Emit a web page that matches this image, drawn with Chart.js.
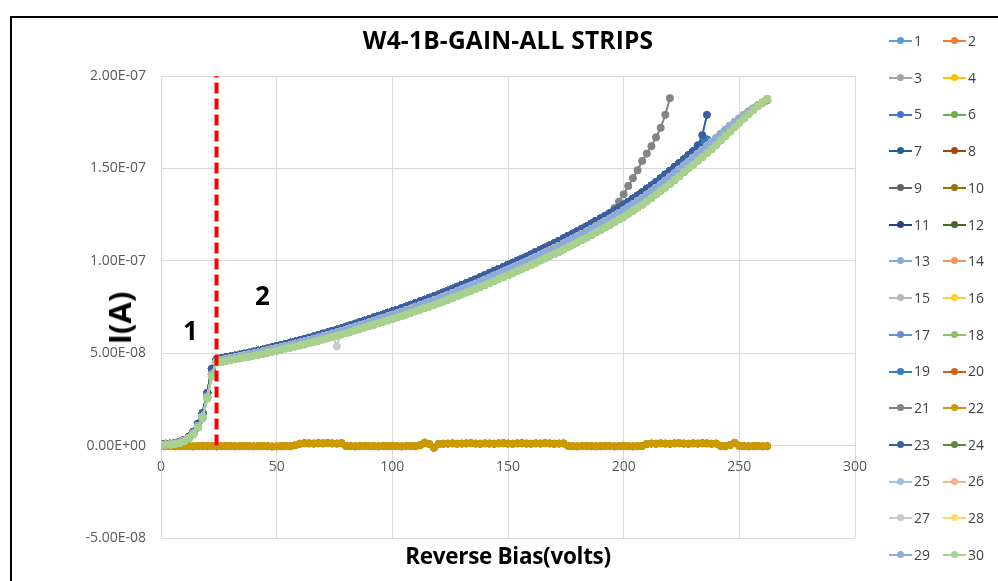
<!DOCTYPE html>
<html lang="en">

<head>
    <meta charset="UTF-8" />
    <title>W4-1B-GAIN-ALL STRIPS</title>
    <script src="https://cdn.jsdelivr.net/npm/chart.js"></script>
    <style>
        body {
            margin: 0;
            background: #fff;
            font-family: "Open Sans", sans-serif;
        }

        .janela {
            position: relative;
            width: 998px;
            height: 581px;
            overflow: hidden;
        }

        .moldura {
            position: absolute;
            left: 10px;
            top: 16px;
            width: 1000px;
            height: 600px;
            border-left: 2px solid #000;
            border-top: 2px solid #000;
        }

        canvas {
            position: absolute;
            left: 0;
            top: 0;
        }

        .titulo {
            position: absolute;
            left: 161px;
            width: 694px;
            top: 23px;
            line-height: 34px;
            text-align: center;
            font-weight: bold;
            font-size: 24.5px;
            letter-spacing: 0.2px;
            color: #000;
        }

        .eixo-x {
            position: absolute;
            left: 161px;
            width: 694px;
            top: 540px;
            line-height: 32px;
            text-align: center;
            font-weight: bold;
            font-size: 22.5px;
            letter-spacing: -0.3px;
            color: #000;
        }

        .eixo-y {
            position: absolute;
            left: 119px;
            top: 318px;
            transform: translate(-50%, -50%) rotate(-90deg);
            font-weight: bold;
            font-size: 31px;
            white-space: nowrap;
            color: #000;
        }

        .item {
            position: absolute;
            height: 20px;
            line-height: 20px;
            font-size: 14px;
            color: #404040;
            white-space: nowrap;
        }

        .amostra {
            position: relative;
            display: inline-block;
            width: 23px;
            height: 2px;
            vertical-align: middle;
            margin-right: 2px;
            margin-top: -2px;
        }

        .amostra i {
            position: absolute;
            left: 8px;
            top: -3px;
            width: 7px;
            height: 7px;
            border-radius: 50%;
        }
    </style>
</head>

<body>
    <div class="janela">
        <div class="moldura"></div>
        <canvas id="grafico" width="998" height="581"></canvas>
        <div class="titulo">W4-1B-GAIN-ALL STRIPS</div>
        <div class="eixo-y">I(A)</div>
        <div class="eixo-x">Reverse Bias(volts)</div>
        <div id="legenda"></div>
    </div>
</body>

</html>
<script>
    // bias points (V)
    var bias = [0, 2, 4, 6, 8, 10, 12, 14, 16, 18, 20, 22, 24, 26, 28, 30, 32, 34, 36, 38,
        40, 42, 44, 46, 48, 50, 52, 54, 56, 58, 60, 62, 64, 66, 68, 70, 72, 74, 76, 78,
        80, 82, 84, 86, 88, 90, 92, 94, 96, 98, 100, 102, 104, 106, 108, 110, 112, 114, 116, 118,
        120, 122, 124, 126, 128, 130, 132, 134, 136, 138, 140, 142, 144, 146, 148, 150, 152, 154, 156, 158,
        160, 162, 164, 166, 168, 170, 172, 174, 176, 178, 180, 182, 184, 186, 188, 190, 192, 194, 196, 198,
        200, 202, 204, 206, 208, 210, 212, 214, 216, 218, 220, 222, 224, 226, 228, 230, 232, 234, 236, 238,
        240, 242, 244, 246, 248, 250, 252, 254, 256, 258, 260, 262];

    // currents in nA
    var curvaMedia = [0.5, 0.6, 0.7, 1.0, 1.6, 2.6, 4.2, 6.6, 10.6, 15.8,
        26.5, 38.5, 45.5, 46.3, 46.8, 47.3, 47.8, 48.3, 48.8, 49.3,
        49.8, 50.3, 50.9, 51.5, 52.1, 52.7, 53.3, 53.9, 54.5, 55.1,
        55.7, 56.3, 57.0, 57.7, 58.4, 59.1, 59.8, 60.5, 61.2, 61.9,
        62.7, 63.5, 64.3, 65.1, 65.9, 66.7, 67.5, 68.3, 69.1, 69.9,
        70.7, 71.5, 72.3, 73.2, 74.1, 75.0, 75.9, 76.8, 77.7, 78.6,
        79.5, 80.5, 81.5, 82.5, 83.5, 84.5, 85.5, 86.5, 87.5, 88.6,
        89.7, 90.8, 91.9, 93.0, 94.1, 95.2, 96.3, 97.4, 98.5, 99.6,
        100.8, 102.0, 103.2, 104.4, 105.6, 106.8, 108.0, 109.3, 110.6, 111.9,
        113.2, 114.5, 115.8, 117.2, 118.6, 120.0, 121.4, 122.8, 124.3, 125.8,
        127.3, 128.9, 130.5, 132.2, 133.9, 135.7, 137.5, 139.4, 141.3, 143.3,
        145.3, 147.3, 149.4, 151.5, 153.6, 155.7, 157.8, 159.9, 162.0, 164.2,
        166.4, 168.6, 170.8, 172.9, 175.0, 177.0, 178.9, 180.7, 182.4, 184.0,
        185.5, 186.8];

    // strips that stop at 236 V
    var curvaAlta = [0.8, 0.9, 1.0, 1.3, 2.0, 3.0, 4.8, 7.4, 11.8, 17.5,
        28.5, 41.5, 46.5, 47.2, 47.7, 48.2, 48.7, 49.2, 49.7, 50.2,
        50.8, 51.3, 51.9, 52.5, 53.1, 53.8, 54.4, 55.0, 55.7, 56.3,
        56.9, 57.6, 58.3, 59.0, 59.8, 60.5, 61.2, 62.0, 62.7, 63.4,
        64.3, 65.1, 65.9, 66.8, 67.6, 68.4, 69.3, 70.1, 70.9, 71.8,
        72.6, 73.4, 74.3, 75.2, 76.1, 77.1, 78.0, 78.9, 79.9, 80.8,
        81.7, 82.8, 83.8, 84.8, 85.9, 86.9, 87.9, 88.9, 89.9, 91.1,
        92.2, 93.3, 94.4, 95.5, 96.6, 97.8, 98.9, 100.0, 101.1, 102.2,
        103.4, 104.7, 105.9, 107.1, 108.3, 109.5, 110.7, 112.1, 113.4, 114.7,
        116.0, 117.3, 118.6, 120.1, 121.5, 122.9, 124.3, 125.7, 127.3, 128.8,
        130.3, 131.9, 133.6, 135.3, 137.0, 138.9, 140.7, 142.6, 144.6, 146.6,
        148.6, 150.7, 152.8, 154.9, 157.1, 159.2, 161.3, 163.4, 165.5];

    var curvaBaixa = [0.2, 0.4, 0.5, 0.8, 1.3, 2.3, 3.8, 6.1, 9.8, 14.8,
        25.5, 37.5, 45.0, 45.3, 45.8, 46.3, 46.8, 47.3, 47.8, 48.2,
        48.7, 49.2, 49.7, 50.3, 50.9, 51.4, 52.0, 52.6, 53.1, 53.7,
        54.3, 54.8, 55.5, 56.2, 56.8, 57.5, 58.2, 58.8, 59.5, 60.2,
        60.9, 61.7, 62.5, 63.2, 64.0, 64.8, 65.5, 66.3, 67.1, 67.8,
        68.6, 69.4, 70.1, 71.0, 71.9, 72.7, 73.6, 74.5, 75.3, 76.2,
        77.1, 78.0, 79.0, 80.0, 80.9, 81.9, 82.9, 83.8, 84.8, 85.9,
        86.9, 88.0, 89.1, 90.2, 91.3, 92.3, 93.4, 94.5, 95.6, 96.7,
        97.8, 99.0, 100.2, 101.4, 102.6, 103.7, 104.9, 106.2, 107.5, 108.8,
        110.0, 111.3, 112.6, 114.0, 115.4, 116.7, 118.1, 119.5, 121.0, 122.5,
        123.9, 125.5, 127.1, 128.8, 130.4, 132.2, 134.0, 135.9, 137.8, 139.7,
        141.7, 143.7, 145.8, 147.9, 150.0, 152.0, 154.1, 156.2, 158.3, 160.5,
        162.8, 165.2, 167.6, 170.0, 172.4, 174.8, 177.1, 179.4, 181.6, 183.7,
        185.7, 187.6];

    // dead strips sitting at zero
    var curvaZero = [-0.2, -0.3, -0.2, -0.4, -0.3, -0.2, -0.3, -0.4, -0.3, -0.2,
        -0.3, -0.2, -0.4, -0.3, -0.3, -0.2, -0.4, -0.3, -0.2, -0.3,
        -0.4, -0.3, -0.2, -0.3, -0.5, -0.4, -0.3, -0.2, -0.3, 0.2,
        1.0, 1.3, 1.2, 1.1, 1.3, 1.2, 1.4, 1.2, 1.1, 1.3,
        -0.2, -0.3, -0.4, -0.3, -0.2, -0.3, -0.3, -0.4, -0.2, -0.3,
        -0.2, -0.3, -0.4, -0.3, -0.2, -0.3, 0.2, 1.6, 0.8, -1.2,
        0.9, 1.0, 1.1, 1.2, 1.0, 1.1, 1.2, 1.3, 1.1, 1.0,
        1.2, 1.1, 1.0, 1.2, 1.3, 1.1, 1.0, 1.2, 1.3, 1.1,
        1.0, 1.2, 1.1, 1.3, 1.2, 1.0, 1.1, 1.2, -0.2, -0.3,
        -0.4, -0.3, -0.2, -0.3, -0.4, -0.3, -0.2, -0.3, -0.4, -0.3,
        -0.2, -0.3, -0.4, -0.3, -0.2, 0.9, 1.1, 1.0, 1.2, 1.1,
        1.0, 1.2, 1.3, 1.1, 1.0, 1.2, 1.1, 1.3, 1.2, 1.0,
        1.1, -0.2, -0.3, 0.3, 1.5, -0.2, -0.3, -0.4, -0.3, -0.2,
        -0.4, -0.3];

    // strip 21 breaks away above 196 V
    var fimStrip21 = [128.5, 132.0, 136.0, 140.5, 144.7, 149.0, 154.0, 158.0, 162.0, 166.8, 172.0, 179.0, 188.0];
    // strip 23 jumps at the last point
    var fimStrip23 = [162.5, 168.0, 179.0];
    // strip 27 glitch at 76 V
    var quedaStrip27 = 53.7;

    var strip21 = curvaAlta.slice(0, 98).concat(fimStrip21);
    var strip23 = curvaAlta.slice(0, 116).concat(fimStrip23);
    var strip27 = curvaMedia.slice(0, 38).concat([quedaStrip27], curvaMedia.slice(39));

    var nomesStrips = ["1", "2", "3", "4", "5", "6", "7", "8", "9", "10",
        "11", "12", "13", "14", "15", "16", "17", "18", "19", "20",
        "21", "22", "23", "24", "25", "26", "27", "28", "29", "30"];

    var coresStrips = ["#5B9BD5", "#ED7D31", "#A5A5A5", "#FFC000", "#4472C4", "#70AD47",
        "#255E91", "#9E480E", "#636363", "#997300", "#264478", "#43682B",
        "#7CAFDD", "#F1975A", "#B7B7B7", "#FFCD33", "#698ED0", "#8CC168",
        "#327DC2", "#D26012", "#848484", "#CC9A00", "#3A5FA0", "#5A8A39",
        "#9DC3E6", "#F4B183", "#C9C9C9", "#FFD966", "#8FAADC", "#A9D18E"];

    var curvasStrips = [curvaMedia, curvaMedia, curvaMedia, curvaMedia, curvaAlta, curvaBaixa,
        curvaAlta, curvaMedia, curvaAlta, curvaZero, curvaAlta, curvaMedia,
        curvaMedia, curvaMedia, curvaMedia, curvaMedia, curvaMedia, curvaBaixa,
        curvaAlta, curvaMedia, strip21, curvaZero, strip23, curvaMedia,
        curvaMedia, curvaMedia, strip27, curvaMedia, curvaMedia, curvaBaixa];

    var yTickValores = [-50, 0, 50, 100, 150, 200];
    var yTickLabels = ["-5.00E-08", "0.00E+00", "5.00E-08", "1.00E-07", "1.50E-07", "2.00E-07"];
    var xTickValores = [0, 50, 100, 150, 200, 250, 300];

    // breakdown marker
    var tensaoRuptura = 24;

    var datasets = [];
    for (var i = 0; i < nomesStrips.length; i++) {
        var pontos = [];
        var curva = curvasStrips[i];
        for (var k = 0; k < curva.length; k++) {
            pontos.push({ x: bias[k], y: curva[k] });
        }
        datasets.push({
            label: nomesStrips[i],
            data: pontos,
            borderColor: coresStrips[i],
            backgroundColor: coresStrips[i],
            borderWidth: 2,
            pointRadius: 3.6,
            pointBorderWidth: 1,
            pointHoverRadius: 3.6,
            tension: 0,
            order: -i
        });
    }

    datasets.push({
        label: "ruptura",
        data: [{ x: tensaoRuptura, y: 0 }, { x: tensaoRuptura, y: 200 }],
        borderColor: "#FF0000",
        borderWidth: 4,
        borderDash: [11, 5],
        pointRadius: 0,
        order: -100
    });

    // region numbers on the plot
    const rotulosRegiao = {
        id: "rotulosRegiao",
        afterDatasetsDraw(chart) {
            var c = chart.ctx;
            var sx = chart.scales.x, sy = chart.scales.y;
            c.save();
            c.fillStyle = "#000";
            c.font = "bold 26px 'Open Sans'";
            c.textAlign = "center";
            c.textBaseline = "middle";
            c.fillText("1", sx.getPixelForValue(12.7), sy.getPixelForValue(61));
            c.fillText("2", sx.getPixelForValue(43.8), sy.getPixelForValue(80));
            c.restore();
        }
    };

    Chart.defaults.font.family = "'Open Sans', sans-serif";
    Chart.defaults.font.size = 14;
    Chart.defaults.color = "#595959";

    const ctx = document.getElementById("grafico");
    new Chart(ctx, {
        type: "line",
        data: { datasets: datasets },
        options: {
            responsive: false,
            animation: false,
            events: [],
            layout: { padding: { left: 0, right: 143, top: 76, bottom: 43 } },
            plugins: {
                legend: { display: false },
                tooltip: { enabled: false },
                title: { display: false }
            },
            scales: {
                x: {
                    type: "linear",
                    min: 0,
                    max: 300,
                    position: { y: 0 },
                    afterBuildTicks: (s) => { s.ticks = xTickValores.map((v) => ({ value: v })); },
                    ticks: { padding: 13, color: "#595959", font: { size: 14 } },
                    grid: { color: "#D9D9D9", drawTicks: false },
                    border: { color: "#D9D9D9" }
                },
                y: {
                    type: "linear",
                    min: -50,
                    max: 200,
                    afterFit: (s) => { s.width = 161; },
                    afterBuildTicks: (s) => { s.ticks = yTickValores.map((v) => ({ value: v })); },
                    ticks: {
                        padding: 15,
                        color: "#595959",
                        font: { size: 14 },
                        callback: (v) => yTickLabels[yTickValores.indexOf(v)]
                    },
                    grid: { color: "#D9D9D9", drawTicks: false },
                    border: { color: "#D9D9D9" }
                }
            }
        },
        plugins: [rotulosRegiao]
    });

    // legend in two columns on the right
    var legenda = document.getElementById("legenda");
    for (var j = 0; j < nomesStrips.length; j++) {
        var item = document.createElement("div");
        item.className = "item";
        item.style.left = (j % 2 === 0 ? 889 : 943) + "px";
        item.style.top = (41 + Math.floor(j / 2) * 36.7 - 10) + "px";
        item.innerHTML = '<span class="amostra" style="background:' + coresStrips[j] + '"><i style="background:' +
            coresStrips[j] + '"></i></span>' + nomesStrips[j];
        legenda.appendChild(item);
    }
</script>
